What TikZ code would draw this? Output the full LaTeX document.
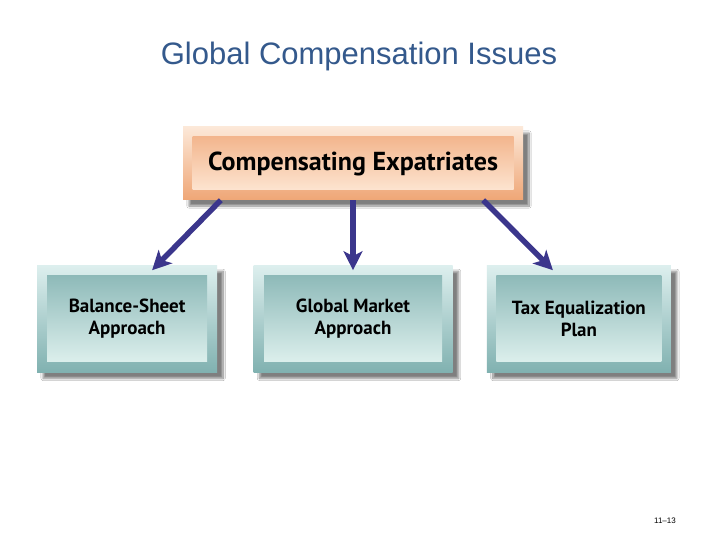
\documentclass[tikz,border=0pt]{standalone}
\usepackage{fontspec}
\setmainfont{Liberation Sans}
\newfontfamily\boxfont{PT Sans}
\usetikzlibrary{arrows.meta,positioning,shadows.blur}
\definecolor{titleblue}{HTML}{34598C}
\definecolor{arrowblue}{HTML}{3B368C}
\definecolor{peachlight}{HTML}{FCE8D8}
\definecolor{peachdark}{HTML}{EFA676}
\definecolor{peachtop}{HTML}{F3B68E}
\definecolor{peachbot}{HTML}{FDE4D0}
\definecolor{teallight}{HTML}{DDEFEE}
\definecolor{tealdark}{HTML}{80B1B0}
\definecolor{tealtop}{HTML}{8EBAB9}
\definecolor{tealbot}{HTML}{DCEFEC}
\tikzset{
    softshadow/.style={blur shadow={shadow xshift=6pt,shadow yshift=-6pt,shadow blur steps=12,shadow opacity=50}},
    peachframe/.style={softshadow,top color=peachlight,bottom color=peachdark,inner sep=0pt},
    peachbox/.style={top color=peachtop,bottom color=peachbot,inner sep=0pt,font=\boxfont\bfseries\fontsize{26}{30}\selectfont},
    tealframe/.style={softshadow,top color=teallight,bottom color=tealdark,inner sep=0pt,minimum height=107pt},
    tealbox/.style={top color=tealtop,bottom color=tealbot,inner sep=0pt,minimum height=86pt,align=center,font=\boxfont\bfseries\fontsize{19}{22}\selectfont},
    link/.style={arrowblue,line width=5.5pt,-{Stealth[length=19pt,width=19pt,inset=5pt]}}
}

\begin{document}
\begin{tikzpicture}[x=1pt,y=-1pt,node distance=65pt]
    \useasboundingbox[fill=white] (0,0) rectangle (720,540);
    \node[text=titleblue,font=\fontsize{31}{36}\selectfont,anchor=base] (title) at (359,65) {Global Compensation Issues};

    \node[peachframe,minimum width=340pt,minimum height=73pt] (topframe) at (353,163.5) {};
    \node[peachbox,minimum width=321pt,minimum height=53pt] (top) at (topframe) {Compensating Expatriates};

    \node[tealframe,minimum width=199pt] (midframe) [below=of topframe] {};
    \node[tealbox,minimum width=178pt] (mid) at (midframe) {Global Market\\Approach};
    \node[tealframe,minimum width=180pt] (leftframe) [left=36pt of midframe] {};
    \node[tealbox,minimum width=160pt] (left) at (leftframe) {Balance-Sheet\\Approach};
    \node[tealframe,minimum width=184pt] (rightframe) [right=34pt of midframe] {};
    \node[tealbox,minimum width=165pt] (right) at (rightframe) {Tax Equalization\\Plan};

    \draw[link] ([xshift=38pt]topframe.south west) -- ([xshift=25pt,yshift=-5pt]leftframe.north);
    \draw[link] (topframe.south) -- ([yshift=-5pt]midframe.north);
    \draw[link] ([xshift=-40pt]topframe.south east) -- ([xshift=-26pt,yshift=-5pt]rightframe.north);

    \node[font=\fontsize{8}{10}\selectfont] (page) at (665,521) {11--13};
\end{tikzpicture}
\end{document}
